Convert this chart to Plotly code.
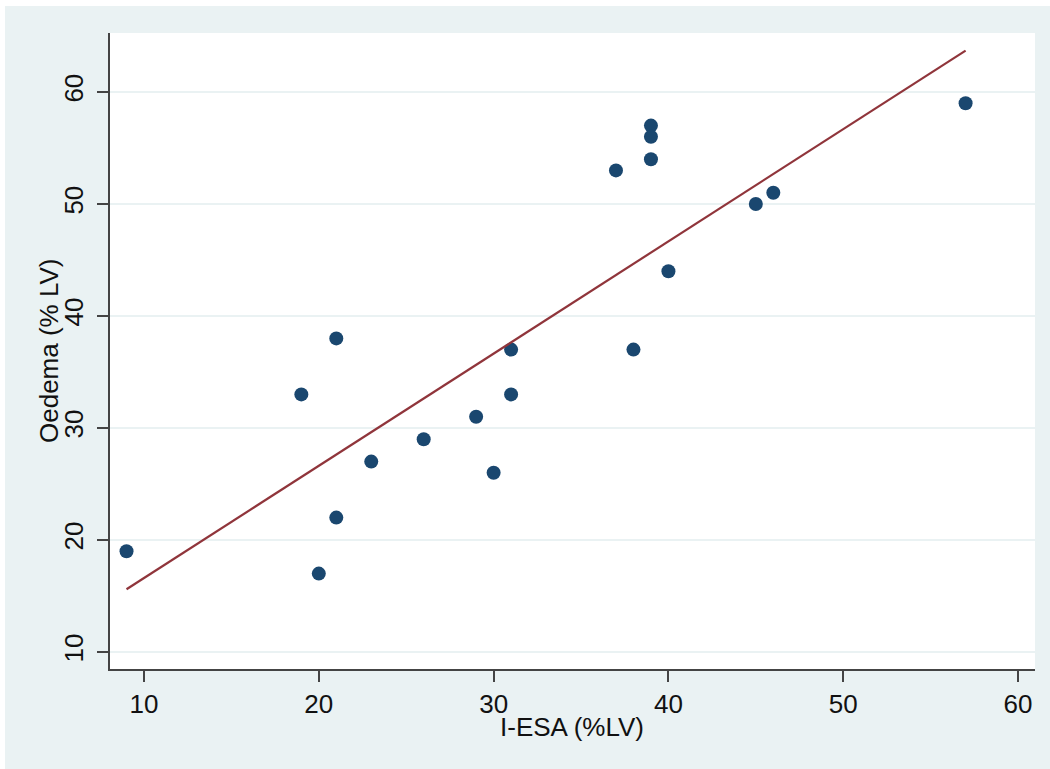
import plotly.graph_objects as go

# Data
iesa = [9, 19, 20, 21, 21, 23, 26, 29, 30, 31, 31, 37, 38, 39, 39, 39, 40, 45, 46, 57]
oedema = [19, 33, 17, 38, 22, 27, 29, 31, 26, 37, 33, 53, 37, 57, 56, 54, 44, 50, 51, 59]
fit_x = [9, 57]
fit_y = [15.6, 63.7]
x_ticks = [10, 20, 30, 40, 50, 60]
y_ticks = [10, 20, 30, 40, 50, 60]
x_title = "I-ESA (%LV)"
y_title = "Oedema (% LV)"

W, H = 1050, 769
ML, MR, MT, MB = 110, 15, 33, 100
PW, PH = W - ML - MR, H - MT - MB

def px(p):
    return (p - ML) / PW

def py(p):
    return (H - MB - p) / PH

BG = "#EAF2F3"
FONT = "Liberation Sans, Arial, Helvetica, sans-serif"

fig = go.Figure()
fig.add_trace(go.Scatter(
    x=iesa, y=oedema, mode="markers",
    marker=dict(size=14, color="#1A476F", line=dict(width=0)),
    showlegend=False, hoverinfo="x+y",
))
fig.add_trace(go.Scatter(
    x=fit_x, y=fit_y, mode="lines",
    line=dict(color="#90353B", width=2.2),
    showlegend=False, hoverinfo="skip",
))

fig.update_layout(
    width=W, height=H,
    margin=dict(l=ML, r=MR, t=MT, b=MB),
    paper_bgcolor=BG, plot_bgcolor="white",
    font=dict(family=FONT, size=26, color="#111111"),
    xaxis=dict(
        range=[8.055, 60.97], tickvals=x_ticks,
        showgrid=False, zeroline=False,
        showline=True, linecolor="#444444", linewidth=1.5,
        ticks="outside", ticklen=11, tickwidth=1.5, tickcolor="#444444",
        ticklabelstandoff=0,
    ),
    yaxis=dict(
        range=[8.48, 65.27], tickvals=y_ticks, tickangle=-90,
        showgrid=True, gridcolor=BG, gridwidth=2, zeroline=False,
        showline=True, linecolor="#444444", linewidth=1.5,
        ticks="outside", ticklen=11, tickwidth=1.5, tickcolor="#444444",
        ticklabelstandoff=4,
    ),
    annotations=[
        dict(text=x_title, xref="paper", yref="paper", x=px(572), y=py(727),
             xanchor="center", yanchor="middle", showarrow=False,
             font=dict(size=26)),
        dict(text=y_title, xref="paper", yref="paper", x=px(49), y=py(351),
             xanchor="center", yanchor="middle", showarrow=False,
             textangle=-90, font=dict(size=26)),
    ],
    shapes=[
        dict(type="rect", xref="paper", yref="paper", layer="above",
             x0=px(0), x1=px(5), y0=py(H), y1=py(0),
             fillcolor="white", line=dict(width=0)),
        dict(type="rect", xref="paper", yref="paper", layer="above",
             x0=px(0), x1=px(W), y0=py(6), y1=py(0),
             fillcolor="white", line=dict(width=0)),
    ],
)

fig.write_html("out.html")
